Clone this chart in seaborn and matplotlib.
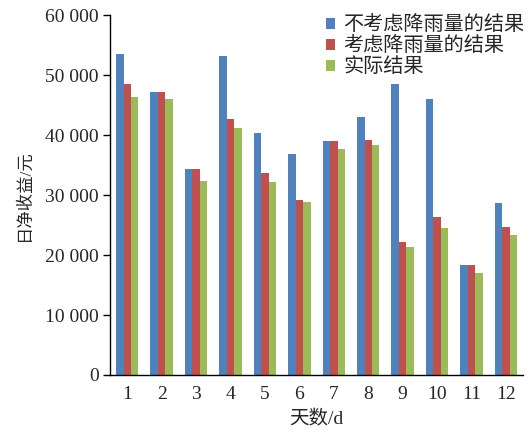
import matplotlib
matplotlib.use("Agg")
import matplotlib.pyplot as plt
import matplotlib.ticker as mticker
import seaborn as sns
import pandas as pd

days = [str(d) for d in range(1, 13)]
no_rain = [53600, 47200, 34400, 53200, 40300, 36900, 39000, 43100, 48500, 46100, 18300, 28700]
with_rain = [48500, 47200, 34400, 42700, 33600, 29200, 39000, 39100, 22200, 26400, 18300, 24700]
actual = [46400, 46000, 32300, 41200, 32200, 28800, 37600, 38300, 21400, 24500, 17000, 23300]
series = ["不考虑降雨量的结果", "考虑降雨量的结果", "实际结果"]
colors = ["#4F81BD", "#C0504D", "#9BBB59"]

df = pd.DataFrame({
    "day": days * 3,
    "value": no_rain + with_rain + actual,
    "series": [series[0]] * 12 + [series[1]] * 12 + [series[2]] * 12,
})

sns.set_theme(style="white")
plt.rcParams["font.family"] = ["Liberation Serif", "Noto Sans CJK SC", "DejaVu Sans"]

fig = plt.figure(figsize=(5.29, 4.33), dpi=100)
ax = fig.add_axes([0.208, 0.134, 0.781, 0.831])

sns.barplot(data=df, x="day", y="value", hue="series", hue_order=series,
            palette=colors, width=0.65, gap=0, saturation=1, ax=ax,
            edgecolor="none", legend=True)

ax.set_ylim(0, 60000)
ax.set_yticks(range(0, 60001, 10000))
ax.yaxis.set_major_formatter(mticker.FuncFormatter(
    lambda v, p: f"{int(v):,}".replace(",", " ")))
ax.set_xlim(-0.5, 11.5)

for s in ["top", "right"]:
    ax.spines[s].set_visible(False)
for s in ["left", "bottom"]:
    ax.spines[s].set_color("black")
    ax.spines[s].set_linewidth(1.0)

ax.tick_params(axis="y", which="major", direction="out", length=5, width=1,
               color="black", left=True, labelsize=14, pad=3)
ax.tick_params(axis="x", which="major", length=0, labelsize=14, pad=8)

ax.set_xlabel("天数/d", fontsize=14, labelpad=5)
ax.set_ylabel("日净收益/元", fontsize=12.5, labelpad=9)

handles, labels = ax.get_legend_handles_labels()
ax.legend(handles, labels, loc="upper left", bbox_to_anchor=(0.617, 0.962),
          bbox_transform=fig.transFigure, frameon=False, fontsize=14.5,
          handlelength=0.45, handleheight=0.45, handletextpad=0.4,
          labelspacing=0.1, borderpad=0, borderaxespad=0)

fig.savefig("out.png", dpi=100)
